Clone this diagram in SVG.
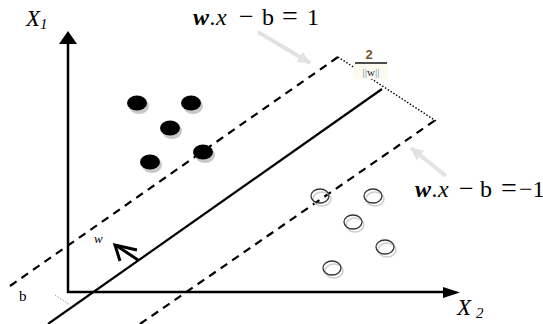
<svg xmlns="http://www.w3.org/2000/svg" width="543" height="324" viewBox="0 0 543 324">
<style>
.axis{stroke:#000;stroke-width:2.5;fill:none}
.solid{stroke:#000;stroke-width:2.2;fill:none}
.dash{stroke:#000;stroke-width:2.2;stroke-dasharray:8 6;fill:none}
.dot{stroke:#000;stroke-width:1.4;stroke-dasharray:1.5 1.8;fill:none}
.hint{stroke:#e2e2e2;stroke-width:4;fill:none}
.lab{font-family:"Liberation Serif",serif;fill:#000}
.it{font-style:italic}
.shadow{fill:#c8c8c8}
.pos{fill:#000}
.neg{fill:none;stroke:#333;stroke-width:1.3}
.negsh{fill:none;stroke:#cfcfcf;stroke-width:1.5}
</style>
<defs>
<marker id="gh" markerWidth="14" markerHeight="14" refX="12" refY="7" orient="auto" markerUnits="userSpaceOnUse">
<path d="M0,1 L13,7 L0,13 Z" fill="#e2e2e2"/>
</marker>
</defs>

<g id="connectors">
<line class="axis" x1="68" y1="293" x2="68" y2="43"/>
<path d="M59,44 L77,44 L68,31 Z" fill="#000"/>
<line class="axis" x1="67" y1="292" x2="445" y2="292"/>
<path d="M443,287 L443,298 L460,292.5 Z" fill="#000"/>
<line class="solid" x1="48" y1="324" x2="382" y2="89"/>
<line class="dash" x1="10" y1="286" x2="338" y2="57"/>
<line class="dash" x1="140" y1="324" x2="437" y2="119"/>
<line class="dot" x1="338" y1="57" x2="436" y2="121"/>
<line x1="138" y1="260" x2="117" y2="246" stroke="#000" stroke-width="3"/>
<polyline points="137,250 115,245 120,261" fill="none" stroke="#000" stroke-width="3"/>
<line x1="55" y1="295" x2="70" y2="305" stroke="#999" stroke-width="1" stroke-dasharray="1.5 1.5"/>
<line class="hint" x1="258" y1="32" x2="310" y2="63" marker-end="url(#gh)"/>
<line class="hint" x1="446" y1="176" x2="411" y2="148" marker-end="url(#gh)"/>
</g>

<g id="label-x1">
<text class="lab it" x="26" y="26" font-size="23">X<tspan font-size="15" dy="3">1</tspan></text>
</g>
<g id="label-x2">
<text class="lab it" x="457" y="315" font-size="23">X<tspan font-size="15" dx="5" dy="3">2</tspan></text>
</g>

<g id="label-plus">
<text class="lab" y="25" font-size="24"><tspan x="193" font-weight="bold" font-style="italic">w</tspan><tspan x="210" font-style="italic">.x</tspan><tspan x="239" font-size="26">−</tspan><tspan x="262">b</tspan><tspan x="282" font-size="28">=</tspan><tspan x="307">1</tspan></text>
</g>
<g id="label-minus">
<text class="lab" y="197" font-size="24"><tspan x="415" font-weight="bold" font-style="italic">w</tspan><tspan x="432" font-style="italic">.x</tspan><tspan x="459" font-size="26">−</tspan><tspan x="480">b</tspan><tspan x="501" font-size="28">=</tspan><tspan x="519">−1</tspan></text>
</g>

<g id="label-margin">
<rect x="354" y="64" width="34" height="15" fill="#fdfbf0"/>
<text x="369" y="59" font-family="Liberation Sans,sans-serif" font-size="13" font-weight="bold" fill="#7a5524" text-anchor="middle">2</text>
<line x1="355" y1="63" x2="387" y2="63" stroke="#000" stroke-width="1.4"/>
<text x="371" y="76" font-family="Liberation Serif,serif" font-size="11" fill="#223" text-anchor="middle"><tspan fill="#5b7fb0">||</tspan>w<tspan fill="#5b7fb0">||</tspan></text>
</g>

<g id="label-w">
<text class="lab it" x="94" y="243" font-size="13">w</text>
</g>
<g id="label-b">
<text class="lab" x="19" y="301" font-size="15">b</text>
</g>

<g id="positive">
<g id="p1"><ellipse class="shadow" cx="139" cy="106" rx="10" ry="8"/><ellipse class="pos" cx="137" cy="103" rx="10" ry="7.5"/></g>
<g id="p2"><ellipse class="shadow" cx="193" cy="106" rx="10" ry="8"/><ellipse class="pos" cx="191" cy="103" rx="10" ry="7.5"/></g>
<g id="p3"><ellipse class="shadow" cx="172" cy="131" rx="10" ry="8"/><ellipse class="pos" cx="170" cy="128" rx="10" ry="7.5"/></g>
<g id="p4"><ellipse class="shadow" cx="152" cy="165" rx="10" ry="8"/><ellipse class="pos" cx="150" cy="162" rx="10" ry="7.5"/></g>
<g id="p5"><ellipse class="shadow" cx="205" cy="155" rx="10" ry="8"/><ellipse class="pos" cx="203" cy="152" rx="10" ry="7.5"/></g>
</g>

<g id="negative">
<g id="n1"><ellipse class="negsh" cx="322" cy="199" rx="9" ry="7"/><ellipse class="neg" cx="320" cy="196" rx="9" ry="7"/></g>
<g id="n2"><ellipse class="negsh" cx="375" cy="199" rx="9" ry="7"/><ellipse class="neg" cx="373" cy="196" rx="9" ry="7"/></g>
<g id="n3"><ellipse class="negsh" cx="355" cy="225" rx="9" ry="7"/><ellipse class="neg" cx="353" cy="222" rx="9" ry="7"/></g>
<g id="n4"><ellipse class="negsh" cx="387" cy="250" rx="9" ry="7"/><ellipse class="neg" cx="385" cy="247" rx="9" ry="7"/></g>
<g id="n5"><ellipse class="negsh" cx="334" cy="271" rx="9" ry="7"/><ellipse class="neg" cx="332" cy="268" rx="9" ry="7"/></g>
</g>
</svg>
